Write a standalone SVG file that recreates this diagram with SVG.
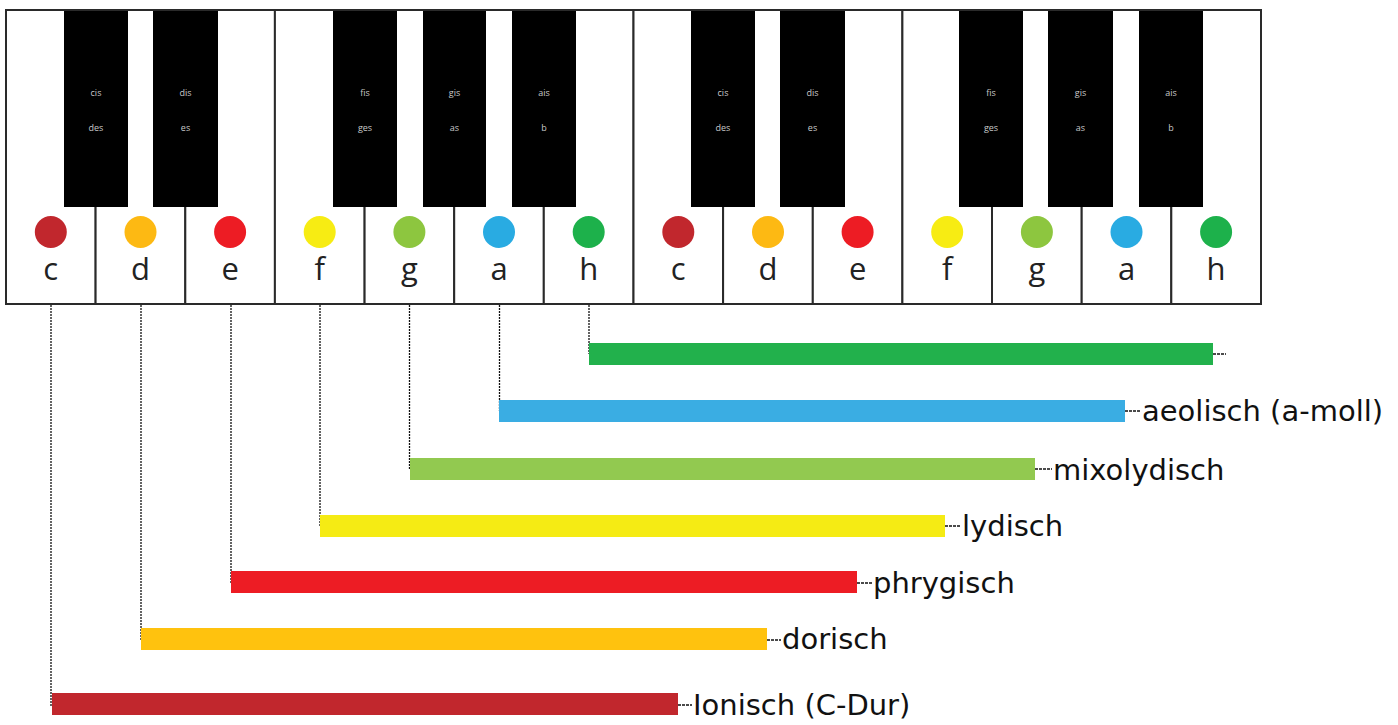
<svg xmlns="http://www.w3.org/2000/svg" width="1398" height="725" viewBox="0 0 1398 725">
<style>
.wk{fill:#fff;stroke:#2a2a2a;stroke-width:2}
.bk{fill:#000}
.bt{font-family:"Open Sans","DejaVu Sans",sans-serif;font-size:9px;fill:#c8c8c8;text-anchor:middle}
.wt{font-family:"Open Sans","DejaVu Sans",sans-serif;font-size:31px;fill:#222;text-anchor:middle}
.lbl{font-family:"DejaVu Sans","Liberation Sans",sans-serif;font-size:29px;fill:#111}
.con{fill:none;stroke:#111;stroke-width:1.3;stroke-dasharray:2 1}
.tick{fill:none;stroke:#111;stroke-width:1.3;stroke-dasharray:3 1}
</style>
<rect width="1398" height="725" fill="#fff"/>
<g id="keyboard">
<g id="key-c1"><rect class="wk" x="6" y="10" width="89.6" height="294"/><circle cx="50.8" cy="232" r="16" fill="#C1272D"/><text class="wt" x="50.8" y="280">c</text></g>
<g id="key-d1"><rect class="wk" x="95.6" y="10" width="89.7" height="294"/><circle cx="140.5" cy="232" r="16" fill="#FDB913"/><text class="wt" x="140.5" y="280">d</text></g>
<g id="key-e1"><rect class="wk" x="185.3" y="10" width="89.6" height="294"/><circle cx="230.1" cy="232" r="16" fill="#ED1C24"/><text class="wt" x="230.1" y="280">e</text></g>
<g id="key-f1"><rect class="wk" x="274.9" y="10" width="89.7" height="294"/><circle cx="319.7" cy="232" r="16" fill="#F7EC13"/><text class="wt" x="319.7" y="280">f</text></g>
<g id="key-g1"><rect class="wk" x="364.6" y="10" width="89.6" height="294"/><circle cx="409.4" cy="232" r="16" fill="#8DC63F"/><text class="wt" x="409.4" y="280">g</text></g>
<g id="key-a1"><rect class="wk" x="454.2" y="10" width="89.6" height="294"/><circle cx="499" cy="232" r="16" fill="#29ABE2"/><text class="wt" x="499" y="280">a</text></g>
<g id="key-h1"><rect class="wk" x="543.8" y="10" width="89.7" height="294"/><circle cx="588.7" cy="232" r="16" fill="#1DB14B"/><text class="wt" x="588.7" y="280">h</text></g>
<g id="key-c2"><rect class="wk" x="633.5" y="10" width="89.6" height="294"/><circle cx="678.3" cy="232" r="16" fill="#C1272D"/><text class="wt" x="678.3" y="280">c</text></g>
<g id="key-d2"><rect class="wk" x="723.1" y="10" width="89.7" height="294"/><circle cx="768" cy="232" r="16" fill="#FDB913"/><text class="wt" x="768" y="280">d</text></g>
<g id="key-e2"><rect class="wk" x="812.8" y="10" width="89.6" height="294"/><circle cx="857.6" cy="232" r="16" fill="#ED1C24"/><text class="wt" x="857.6" y="280">e</text></g>
<g id="key-f2"><rect class="wk" x="902.4" y="10" width="89.6" height="294"/><circle cx="947.2" cy="232" r="16" fill="#F7EC13"/><text class="wt" x="947.2" y="280">f</text></g>
<g id="key-g2"><rect class="wk" x="992" y="10" width="89.7" height="294"/><circle cx="1036.9" cy="232" r="16" fill="#8DC63F"/><text class="wt" x="1036.9" y="280">g</text></g>
<g id="key-a2"><rect class="wk" x="1081.7" y="10" width="89.6" height="294"/><circle cx="1126.5" cy="232" r="16" fill="#29ABE2"/><text class="wt" x="1126.5" y="280">a</text></g>
<g id="key-h2"><rect class="wk" x="1171.3" y="10" width="89.7" height="294"/><circle cx="1216.1" cy="232" r="16" fill="#1DB14B"/><text class="wt" x="1216.1" y="280">h</text></g>
<g id="key-cis1"><rect class="bk" x="64" y="10" width="64" height="197"/><text class="bt" x="96" y="96">cis</text><text class="bt" x="96" y="131">des</text></g>
<g id="key-dis1"><rect class="bk" x="153" y="10" width="65" height="197"/><text class="bt" x="185.5" y="96">dis</text><text class="bt" x="185.5" y="131">es</text></g>
<g id="key-fis1"><rect class="bk" x="333" y="10" width="64" height="197"/><text class="bt" x="365" y="96">fis</text><text class="bt" x="365" y="131">ges</text></g>
<g id="key-gis1"><rect class="bk" x="423" y="10" width="63" height="197"/><text class="bt" x="454.5" y="96">gis</text><text class="bt" x="454.5" y="131">as</text></g>
<g id="key-ais1"><rect class="bk" x="512" y="10" width="64" height="197"/><text class="bt" x="544" y="96">ais</text><text class="bt" x="544" y="131">b</text></g>
<g id="key-cis2"><rect class="bk" x="691" y="10" width="64" height="197"/><text class="bt" x="723" y="96">cis</text><text class="bt" x="723" y="131">des</text></g>
<g id="key-dis2"><rect class="bk" x="780" y="10" width="65" height="197"/><text class="bt" x="812.5" y="96">dis</text><text class="bt" x="812.5" y="131">es</text></g>
<g id="key-fis2"><rect class="bk" x="959" y="10" width="64" height="197"/><text class="bt" x="991" y="96">fis</text><text class="bt" x="991" y="131">ges</text></g>
<g id="key-gis2"><rect class="bk" x="1048" y="10" width="65" height="197"/><text class="bt" x="1080.5" y="96">gis</text><text class="bt" x="1080.5" y="131">as</text></g>
<g id="key-ais2"><rect class="bk" x="1139" y="10" width="64" height="197"/><text class="bt" x="1171" y="96">ais</text><text class="bt" x="1171" y="131">b</text></g>
<rect x="6" y="10" width="1255" height="294" fill="none" stroke="#2a2a2a" stroke-width="2"/>
</g>
<g id="connectors">
<path class="con" d="M51 305V706"/>
<path class="con" d="M141 305V640"/>
<path class="con" d="M231 305V583"/>
<path class="con" d="M320 305V526"/>
<path class="con" d="M409.5 305V469"/>
<path class="con" d="M499.5 305V411"/>
<path class="con" d="M589 305V354"/>
<path class="tick" d="M1213 354H1226"/>
<path class="tick" d="M1125 411H1141"/>
<path class="tick" d="M1035 469H1052"/>
<path class="tick" d="M945 526H961"/>
<path class="tick" d="M857 583H872"/>
<path class="tick" d="M767 640H781"/>
<path class="tick" d="M678 705H692"/>
</g>
<g id="mode-locrian"><rect x="589" y="343" width="624" height="22" fill="#22B14C"/></g>
<g id="mode-aeolian"><rect x="499" y="400" width="626" height="22" fill="#3AADE3"/><text class="lbl" x="1142" y="421">aeolisch (a-moll)</text></g>
<g id="mode-mixolydian"><rect x="410" y="458" width="625" height="22" fill="#92C950"/><text class="lbl" x="1053" y="480">mixolydisch</text></g>
<g id="mode-lydian"><rect x="320" y="515" width="625" height="22" fill="#F5EB14"/><text class="lbl" x="962" y="536">lydisch</text></g>
<g id="mode-phrygian"><rect x="231" y="571" width="626" height="22" fill="#ED1C24"/><text class="lbl" x="873" y="593">phrygisch</text></g>
<g id="mode-dorian"><rect x="141" y="628" width="626" height="22" fill="#FFC20E"/><text class="lbl" x="782" y="649">dorisch</text></g>
<g id="mode-ionian"><rect x="52" y="693" width="626" height="22" fill="#C1272D"/><text class="lbl" x="693" y="715">Ionisch (C-Dur)</text></g>
</svg>
